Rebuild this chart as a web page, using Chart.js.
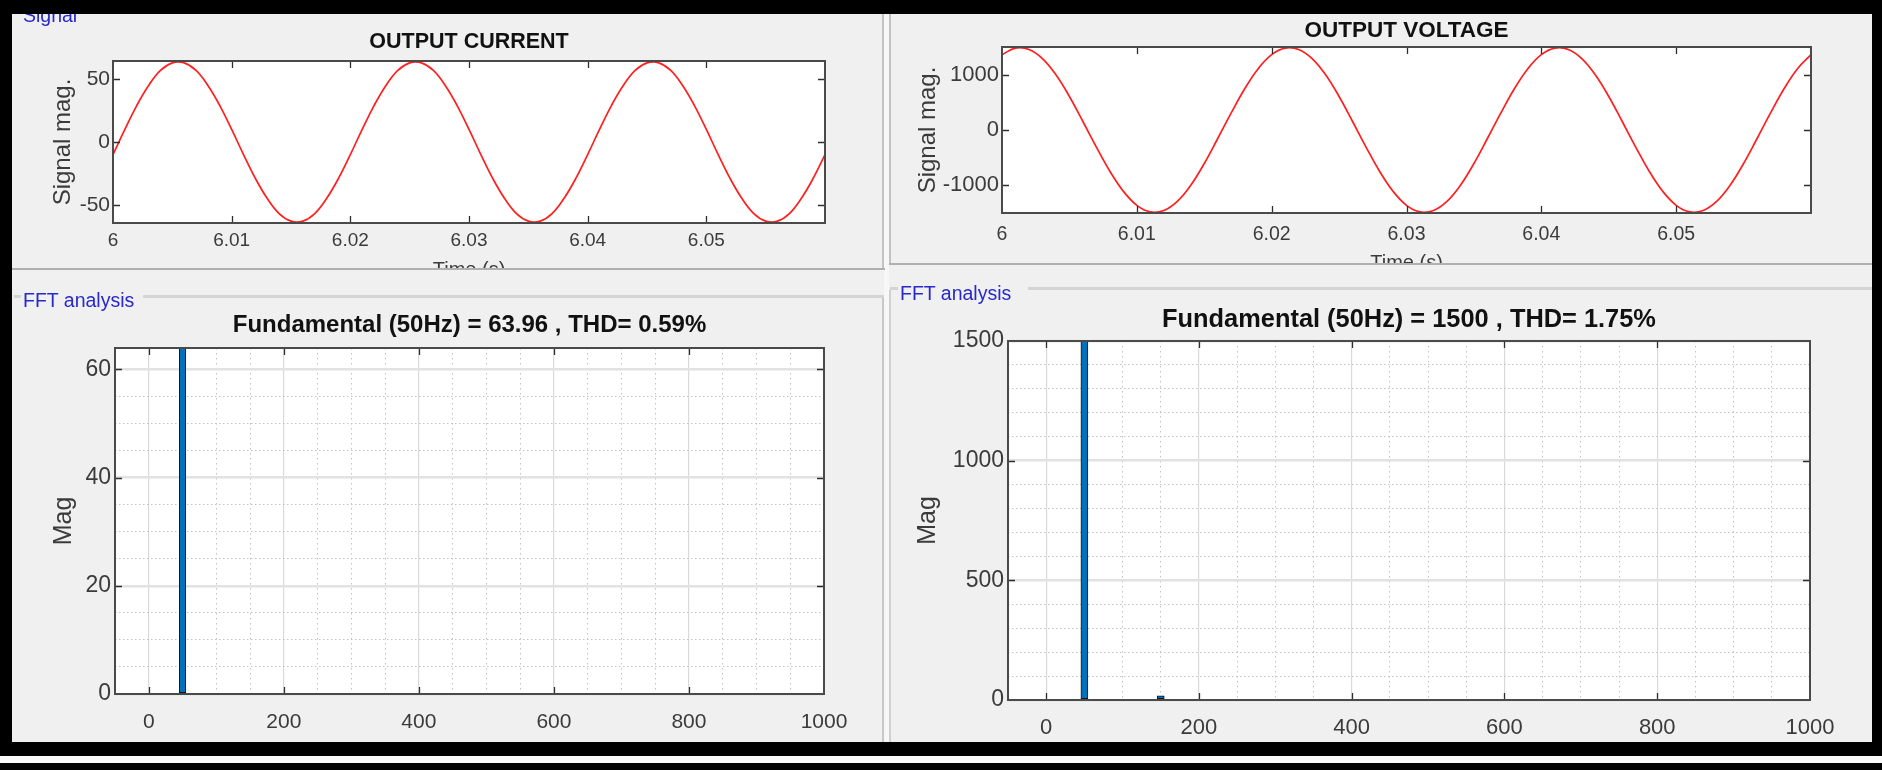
<!DOCTYPE html>
<html>
<head>
<meta charset="utf-8">
<title>Output current / voltage and FFT analysis</title>
<script src="https://cdn.jsdelivr.net/npm/chart.js@4.4.1/dist/chart.umd.min.js"></script>
<style>
  html, body { margin: 0; padding: 0; }
  body {
    width: 1882px; height: 770px; position: relative; overflow: hidden;
    background: #000; font-family: "Liberation Sans", Arial, Helvetica, sans-serif;
  }
  .fig { position: absolute; left: 12px; top: 14px; width: 1860px; height: 728px; background: #f0f0f0; }
  .ln { position: absolute; }
  .pane { position: absolute; overflow: hidden; }
  .pane canvas { position: absolute; left: 0; top: 0; }
  .tag { position: absolute; color: #2828cc; font-size: 19.5px; line-height: 1; white-space: nowrap; }
</style>
</head>
<body>
<div class="fig"></div>
<div class="ln" style="left:884px;top:14px;width:5px;height:728px;background:#f7f7f7"></div>
<div class="ln" style="left:882px;top:14px;width:2px;height:254px;background:#c2c2c2"></div>
<div class="ln" style="left:882px;top:298px;width:2px;height:444px;background:#c8c8c8"></div>
<div class="ln" style="left:889px;top:14px;width:2px;height:249px;background:#c2c2c2"></div>
<div class="ln" style="left:889px;top:290px;width:2px;height:452px;background:#d0d0d0"></div>
<div class="ln" style="left:12px;top:268px;width:873px;height:2px;background:#b0b0b0"></div>
<div class="ln" style="left:889px;top:263px;width:983px;height:2px;background:#b0b0b0"></div>
<div class="ln" style="left:14px;top:295px;width:7px;height:3px;background:#d4d4d4"></div>
<div class="ln" style="left:143px;top:295px;width:741px;height:3px;background:#d4d4d4"></div>
<div class="ln" style="left:890px;top:287px;width:8px;height:3px;background:#d4d4d4"></div>
<div class="ln" style="left:1028px;top:287px;width:844px;height:3px;background:#d4d4d4"></div>
<div class="ln" style="left:0;top:756px;width:1882px;height:7px;background:#fafafa"></div>

<div class="pane" style="left:12px;top:14px;width:870px;height:254px">
  <canvas id="curChart" width="870" height="290"></canvas>
  <div class="tag" style="left:11px;top:-8.5px">Signal</div>
</div>
<div class="pane" style="left:891px;top:14px;width:981px;height:249px">
  <canvas id="voltChart" width="981" height="290"></canvas>
</div>
<div class="pane" style="left:12px;top:270px;width:870px;height:472px">
  <canvas id="fftCurChart" width="870" height="472"></canvas>
  <div class="tag" style="left:11px;top:20.5px">FFT analysis</div>
</div>
<div class="pane" style="left:891px;top:265px;width:981px;height:477px">
  <canvas id="fftVoltChart" width="981" height="477"></canvas>
  <div class="tag" style="left:9px;top:18.5px">FFT analysis</div>
</div>

<script>
// values
const timeS = [
  6.000, 6.001, 6.002, 6.003, 6.004, 6.005, 6.006, 6.007, 6.008, 6.009,
  6.010, 6.011, 6.012, 6.013, 6.014, 6.015, 6.016, 6.017, 6.018, 6.019,
  6.020, 6.021, 6.022, 6.023, 6.024, 6.025, 6.026, 6.027, 6.028, 6.029,
  6.030, 6.031, 6.032, 6.033, 6.034, 6.035, 6.036, 6.037, 6.038, 6.039,
  6.040, 6.041, 6.042, 6.043, 6.044, 6.045, 6.046, 6.047, 6.048, 6.049,
  6.050, 6.051, 6.052, 6.053, 6.054, 6.055, 6.056, 6.057, 6.058, 6.059,
  6.060
];
const currentA = [
  -10, 10, 29, 45, 57, 63, 63, 57, 45, 29, 10, -10, -29, -45, -57, -63, -63, -57, -45, -29,
  -10, 10, 29, 45, 57, 63, 63, 57, 45, 29, 10, -10, -29, -45, -57, -63, -63, -57, -45, -29,
  -10, 10, 29, 45, 57, 63, 63, 57, 45, 29, 10, -10, -29, -45, -57, -63, -63, -57, -45, -29,
  -10
];
const voltageV = [
  1370, 1490, 1465, 1300, 1005, 610, 155, -310, -750, -1115,
  -1370, -1490, -1465, -1300, -1005, -610, -155, 310, 750, 1115,
  1370, 1490, 1465, 1300, 1005, 610, 155, -310, -750, -1115,
  -1370, -1490, -1465, -1300, -1005, -610, -155, 310, 750, 1115,
  1370, 1490, 1465, 1300, 1005, 610, 155, -310, -750, -1115,
  -1370, -1490, -1465, -1300, -1005, -610, -155, 310, 750, 1115,
  1370
];
const timeTicks = [6, 6.01, 6.02, 6.03, 6.04, 6.05];
const currentTicks = [-50, 0, 50];
const voltageTicks = [-1000, 0, 1000];

const fftHzI = [50];
const fftMagI = [63.96];
const fftHzV = [50, 150];
const fftMagV = [1500, 17];
const freqTicks = [0, 200, 400, 600, 800, 1000];
const magTicksI = [0, 20, 40, 60];
const magTicksV = [0, 500, 1000, 1500];

const FONT = '"Liberation Sans", Arial, Helvetica, sans-serif';
const INK = '#3b3b3b';
Chart.defaults.font.family = FONT;
Chart.defaults.color = INK;

const near = (v, list) => list.some(m => Math.abs(m - v) < 1e-6);
const isMajor = (c, list) => (c.tick ? near(c.tick.value, list) : true);

// matlab look: white axes, dark box, inward ticks on all four sides
function axesBox(xMajor, yMajor) {
  return {
    id: 'axesBox',
    beforeDraw(chart) {
      const { ctx, chartArea: a } = chart;
      ctx.save();
      ctx.fillStyle = '#ffffff';
      ctx.fillRect(a.left, a.top, a.width, a.height);
      ctx.restore();
    },
    afterDatasetsDraw(chart) {
      const { ctx, chartArea: a, scales } = chart;
      const len = 7;
      ctx.save();
      ctx.strokeStyle = '#2e2e2e';
      ctx.lineWidth = 1.3;
      ctx.beginPath();
      xMajor.forEach(v => {
        const p = Math.round(scales.x.getPixelForValue(v)) + 0.5;
        if (p <= a.left + 1 || p >= a.right - 1) return;
        ctx.moveTo(p, a.bottom); ctx.lineTo(p, a.bottom - len);
        ctx.moveTo(p, a.top); ctx.lineTo(p, a.top + len);
      });
      yMajor.forEach(v => {
        const p = Math.round(scales.y.getPixelForValue(v)) + 0.5;
        if (p <= a.top + 1 || p >= a.bottom - 1) return;
        ctx.moveTo(a.left, p); ctx.lineTo(a.left + len, p);
        ctx.moveTo(a.right, p); ctx.lineTo(a.right - len, p);
      });
      ctx.stroke();
      ctx.strokeStyle = '#4a4a4a';
      ctx.lineWidth = 2;
      ctx.strokeRect(a.left, a.top, a.width, a.height);
      ctx.restore();
    }
  };
}

function waveChart(id, values, ticksY, yMax, title, lay) {
  return new Chart(document.getElementById(id), {
    type: 'line',
    data: {
      datasets: [{
        data: timeS.map((t, i) => ({ x: t, y: values[i] })),
        borderColor: '#ff1f1f',
        borderWidth: 1.7,
        pointRadius: 0,
        tension: 0.4
      }]
    },
    options: {
      responsive: false,
      animation: false,
      events: [],
      layout: { padding: { left: 0, right: lay.right, top: 0, bottom: 0 } },
      plugins: {
        legend: { display: false },
        tooltip: { enabled: false },
        title: {
          display: true, text: title, fullSize: false, color: '#111',
          font: { size: lay.titleSize, weight: 'bold' },
          padding: { top: lay.titleTop, bottom: lay.titleBottom }
        }
      },
      scales: {
        x: {
          type: 'linear', min: 6, max: 6.06,
          afterBuildTicks: s => { s.ticks = timeTicks.map(v => ({ value: v })); },
          afterFit: s => { s.height = lay.xh; },
          grid: { display: false, drawTicks: false },
          border: { display: false },
          ticks: { autoSkip: false, maxRotation: 0, padding: lay.xpad, color: INK, font: { size: lay.xtick }, callback: v => String(v) },
          title: { display: true, text: 'Time (s)', color: INK, font: { size: 20 }, padding: { top: 0, bottom: lay.xTitle } }
        },
        y: {
          min: -yMax, max: yMax,
          afterBuildTicks: s => { s.ticks = ticksY.map(v => ({ value: v })); },
          afterFit: s => { s.width = lay.yw; },
          grid: { display: false, drawTicks: false },
          border: { display: false },
          ticks: { padding: 3, color: INK, font: { size: lay.ytick }, callback: v => String(v) },
          title: { display: true, text: 'Signal mag.', color: INK, font: { size: 24 }, padding: { top: lay.yTitle, bottom: 0 } }
        }
      }
    },
    plugins: [axesBox(timeTicks, ticksY)]
  });
}

function fftChart(id, hz, mag, yMax, yStep, yMajor, title, lay) {
  return new Chart(document.getElementById(id), {
    type: 'bar',
    data: {
      datasets: [{
        data: hz.map((f, i) => ({ x: f, y: mag[i] })),
        backgroundColor: '#0072bd',
        borderColor: '#151515',
        borderWidth: 1,
        borderSkipped: false,
        barThickness: lay.bar
      }]
    },
    options: {
      responsive: false,
      animation: false,
      events: [],
      layout: { padding: { left: 0, right: lay.right, top: 0, bottom: 0 } },
      plugins: {
        legend: { display: false },
        tooltip: { enabled: false },
        title: {
          display: true, text: title, fullSize: false, color: '#111',
          font: { size: lay.titleSize, weight: 'bold' },
          padding: { top: lay.titleTop, bottom: lay.titleBottom }
        }
      },
      scales: {
        x: {
          type: 'linear', min: -50, max: 1000, offset: false,
          afterFit: s => { s.height = lay.xh; },
          grid: {
            offset: false, drawTicks: false,
            color: c => (isMajor(c, freqTicks) ? '#d9d9d9' : '#c2c2c2'),
            lineWidth: c => (isMajor(c, freqTicks) ? 1.2 : 1)
          },
          border: { display: false, dash: c => (isMajor(c, freqTicks) ? [] : [1.5, 3.5]) },
          ticks: {
            stepSize: 50, autoSkip: false, maxRotation: 0, padding: lay.xpad, color: INK,
            font: { size: lay.xtick },
            callback: v => (near(v, freqTicks) ? String(v) : '')
          }
        },
        y: {
          min: 0, max: yMax,
          afterFit: s => { s.width = lay.yw; },
          grid: {
            drawTicks: false,
            color: c => (isMajor(c, yMajor) ? '#e2e2e2' : '#c2c2c2'),
            lineWidth: c => (isMajor(c, yMajor) ? 2.5 : 1)
          },
          border: { display: false, dash: c => (isMajor(c, yMajor) ? [] : [1.5, 2.5]) },
          ticks: {
            stepSize: yStep, includeBounds: false, autoSkip: false, padding: 4, color: INK,
            font: { size: lay.ytick },
            callback: v => (near(v, yMajor) ? String(v) : '')
          },
          title: { display: true, text: 'Mag', color: INK, font: { size: 25 }, padding: { top: lay.yTitle, bottom: 0 } }
        }
      }
    },
    plugins: [axesBox(freqTicks, yMajor)]
  });
}

waveChart('curChart', currentA, currentTicks, 64.5, 'OUTPUT CURRENT', {
  right: 57, titleSize: 21.5, titleTop: 15.1, titleBottom: 6.1,
  xh: 81, xpad: 6.6, xtick: 19, ytick: 21, xTitle: 22, yw: 101, yTitle: 37.1
});
waveChart('voltChart', voltageV, voltageTicks, 1510, 'OUTPUT VOLTAGE', {
  right: 61, titleSize: 22.5, titleTop: 3.5, titleBottom: 2.5,
  xh: 91, xpad: 10.3, xtick: 19.5, ytick: 22, xTitle: 29, yw: 111, yTitle: 22.6
});
fftChart('fftCurChart', fftHzI, fftMagI, 63.96, 5, magTicksI,
  'Fundamental (50Hz) = 63.96 , THD= 0.59%', {
  right: 58, titleSize: 24, titleTop: 41.1, titleBottom: 8.1,
  xh: 48, xpad: 15.9, xtick: 21, ytick: 23, yw: 103, yTitle: 37, bar: 6.5
});
fftChart('fftVoltChart', fftHzV, fftMagV, 1500, 100, magTicksV,
  'Fundamental (50Hz) = 1500 , THD= 1.75%', {
  right: 62, titleSize: 25.4, titleTop: 39.8, titleBottom: 5.7,
  xh: 42, xpad: 14.3, xtick: 22, ytick: 23, yw: 117, yTitle: 22, bar: 7
});
</script>
</body>
</html>
